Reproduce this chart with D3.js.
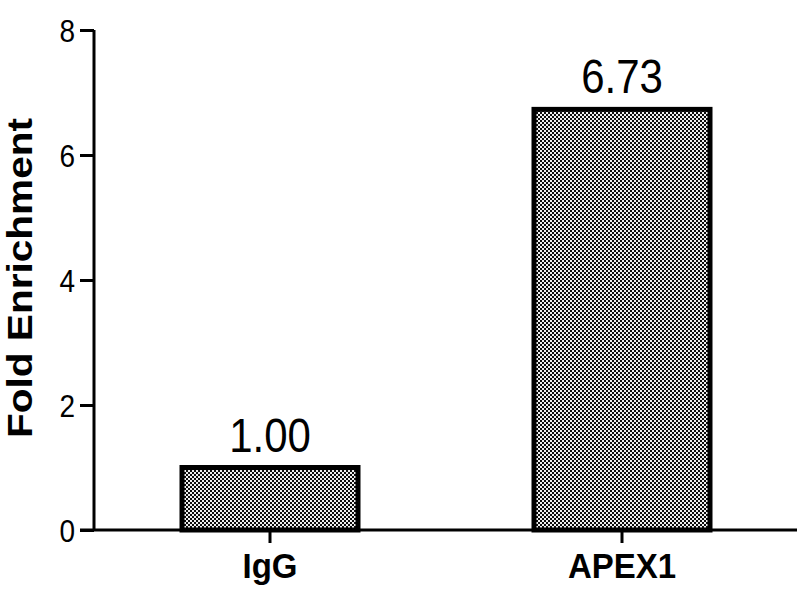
<!DOCTYPE html>
<html><head><meta charset="utf-8">
<script src="https://cdn.jsdelivr.net/npm/d3@7"></script>
<style>body{margin:0;background:#fff}svg{display:block}</style>
</head><body>
<script>
const categories = ["IgG", "APEX1"];
const values = [1.00, 6.73];
const valueLabels = ["1.00", "6.73"];
const yTicks = [0, 2, 4, 6, 8];
const yTitle = "Fold Enrichment";

const W = 800, H = 600;
const svg = d3.select("body").append("svg").attr("width", W).attr("height", H);
const defs = svg.append("defs");
const pat = defs.append("pattern").attr("id","chk").attr("patternUnits","userSpaceOnUse")
  .attr("width",4).attr("height",4);
pat.append("rect").attr("width",4).attr("height",4).attr("fill","#f0f0f0");
pat.append("rect").attr("x",0).attr("y",0).attr("width",2).attr("height",2).attr("fill","#0d0d0d");
pat.append("rect").attr("x",2).attr("y",2).attr("width",2).attr("height",2).attr("fill","#0d0d0d");

const y = d3.scaleLinear().domain([0, 8]).range([530, 30]);
const x = d3.scaleBand().domain(categories).range([94, 798]).paddingInner(0.5).paddingOuter(0.25);

const font = "'Liberation Sans', Arial, sans-serif";
const SY = 1.15;

// bars
svg.selectAll("rect.bar").data(categories).enter().append("rect")
  .attr("class","bar")
  .attr("x", d => x(d))
  .attr("width", x.bandwidth())
  .attr("y", (d,i) => y(values[i]))
  .attr("height", (d,i) => y(0) - y(values[i]))
  .attr("fill","url(#chk)")
  .attr("stroke","#000").attr("stroke-width",5);

// value labels
svg.selectAll("text.val").data(categories).enter().append("text")
  .attr("class","val")
  .attr("transform", (d,i) => `translate(${x(d) + x.bandwidth()/2},${y(values[i]) - 16}) scale(1,${SY})`)
  .attr("text-anchor","middle")
  .attr("font-family", font).attr("font-size", 42)
  .attr("fill","#000")
  .text((d,i) => valueLabels[i]);

// y axis
const TF = 28;
const yAxis = d3.axisLeft(y).tickValues(yTicks).tickFormat(d3.format("d")).tickSize(14).tickPadding(5);
const gy = svg.append("g").attr("transform","translate(94,0)").call(yAxis);
gy.select(".domain").attr("stroke","#000").attr("stroke-width",3).attr("d","M0,30V530");
gy.selectAll(".tick line").attr("stroke","#000").attr("stroke-width",3);
gy.selectAll(".tick text").attr("font-family",font).attr("font-size",TF).attr("fill","#000")
  .attr("x",0).attr("dy",null).attr("y",null)
  .attr("transform",`translate(-19,${0.36*TF*SY}) scale(1,${SY})`);

// x axis
const xAxis = d3.axisBottom(x).tickSize(13).tickPadding(10);
const gx = svg.append("g").attr("transform","translate(0,530)").call(xAxis);
gx.select(".domain").attr("stroke","#000").attr("stroke-width",3).attr("d","M80,0H797");
gx.selectAll(".tick line").attr("stroke","#000").attr("stroke-width",3);
gx.selectAll(".tick text").attr("font-family",font).attr("font-size",33).attr("font-weight","bold").attr("fill","#000")
  .attr("y",null).attr("dy",null)
  .attr("transform",`translate(0,48) scale(1,1.08)`);

// y title
svg.append("text")
  .attr("transform","translate(32,278) rotate(-90)")
  .attr("text-anchor","middle")
  .attr("font-family",font).attr("font-size",35).attr("font-weight","bold")
  .attr("textLength",320).attr("lengthAdjust","spacingAndGlyphs")
  .attr("fill","#000")
  .text(yTitle);
</script>
</body></html>
